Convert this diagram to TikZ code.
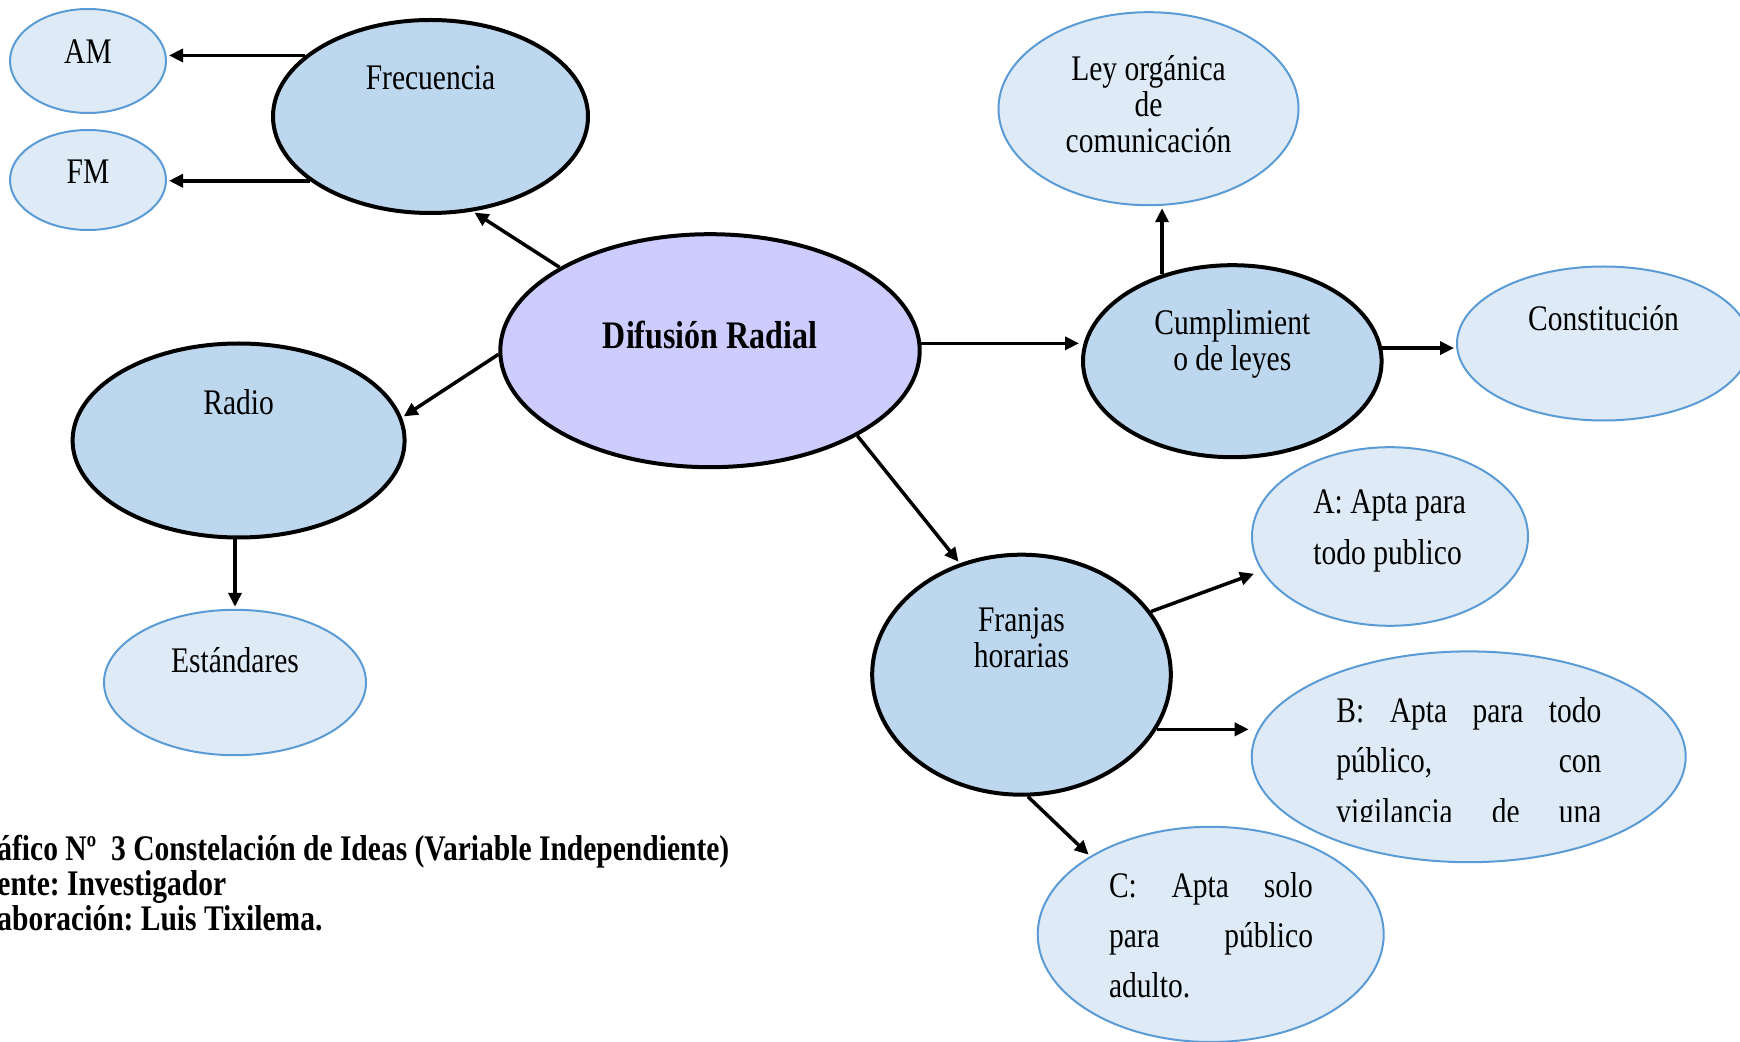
\documentclass[tikz,border=0pt]{standalone}
\usepackage{fontspec}
\setmainfont{Liberation Serif}[FakeStretch=0.82]
\usetikzlibrary{shapes.geometric,arrows.meta}
\definecolor{midblue}{HTML}{BDD7EE}
\definecolor{leafblue}{HTML}{DEEBF7}
\definecolor{leafline}{HTML}{5B9BD5}
\definecolor{lav}{HTML}{CCCCFF}
\frenchspacing
\tikzset{
 mainell/.style={ellipse, draw=black, line width=2pt, fill=midblue, inner sep=0pt},
 leafell/.style={ellipse, draw=leafline, line width=1pt, fill=leafblue, inner sep=0pt},
 lbl/.style={anchor=base, inner sep=0pt, font=\fontsize{18}{18}\selectfont},
 lblw/.style={anchor=base west, inner sep=0pt, font=\fontsize{18}{25.4}\selectfont},
 arr/.style={line width=1.75pt, -{Triangle[length=7pt,width=6.5pt]}, shorten >=1pt},
}
\begin{document}
\begin{tikzpicture}[x=0.5pt,y=-0.5pt]
\useasboundingbox (0,0) rectangle (1740,1042);
% ellipses
\node[leafell, minimum width=78pt, minimum height=52pt] (am) at (88,61) {};
\node[leafell, minimum width=78pt, minimum height=50pt] (fm) at (88,180) {};
\node[mainell, minimum width=157.5pt, minimum height=96.5pt] (frec) at (430.5,116.5) {};
\node[mainell, fill=lav, minimum width=209.7pt, minimum height=116.5pt] (dif) at (710,350.7) {};
\node[mainell, minimum width=166pt, minimum height=97pt] (radio) at (238.6,440.5) {};
\node[leafell, minimum width=131pt, minimum height=72.7pt] (est) at (235,682.5) {};
\node[leafell, minimum width=150pt, minimum height=96.5pt] (ley) at (1148.5,108.7) {};
\node[mainell, minimum width=149.3pt, minimum height=96pt] (cump) at (1232.3,361.2) {};
\node[leafell, minimum width=146.5pt, minimum height=77pt] (const) at (1603.5,343.5) {};
\node[mainell, minimum width=149.3pt, minimum height=120pt] (franj) at (1021.5,674.7) {};
\node[leafell, minimum width=138pt, minimum height=89.3pt] (a) at (1390,536.5) {};
\node[leafell, minimum width=217pt, minimum height=105.4pt] (b) at (1468.7,756.8) {};
\node[leafell, minimum width=173pt, minimum height=107.6pt] (c) at (1210.7,934.4) {};
% texts
\node[lbl] (tam) at (88,64) {AM};
\node[lbl] (tfm) at (88,184) {FM};
\node[lbl] (tfrec) at (430.5,89.7) {Frecuencia};
\node[lbl, font=\fontsize{19.5}{19.5}\selectfont\bfseries] (tdif) at (710,349) {Difusión Radial};
\node[lbl] (tradio) at (238.6,415) {Radio};
\node[lbl] (test) at (235,672) {Estándares};
\node[lbl] (tley) at (1148.5,80.8) {\begin{tabular}[t]{@{}c@{}}Ley orgánica\\de\\comunicación\end{tabular}};
\node[lbl] (tcump) at (1232.3,335) {\begin{tabular}[t]{@{}c@{}}Cumplimient\\o de leyes\end{tabular}};
\node[lbl] (tconst) at (1603.5,330.5) {Constitución};
\node[lbl] (tfranj) at (1021.5,632) {\begin{tabular}[t]{@{}c@{}}Franjas\\horarias\end{tabular}};
\node[lblw] (ta) at (1313,513.6) {\begin{tabular}[t]{@{}l@{}}A: Apta para\\todo publico\end{tabular}};
\begin{scope}
\clip (1240,640) rectangle (1700,821.5);
\node[lblw, font=\fontsize{18}{25.3}\selectfont] (tb) at (1336,722) {\begin{tabular}[t]{@{}l@{}}\makebox[132.5pt][s]{B: Apta para todo}\\\makebox[132.5pt][s]{público, con}\\\makebox[132.5pt][s]{vigilancia de una}\end{tabular}};
\end{scope}
\node[lblw, font=\fontsize{18}{25}\selectfont] (tc) at (1108.6,897.5) {\begin{tabular}[t]{@{}l@{}}\makebox[102pt][s]{C: Apta solo}\\\makebox[102pt][s]{para público}\\adulto.\end{tabular}};
% caption
\node[anchor=base west, inner sep=0pt, font=\fontsize{18}{16.8}\selectfont\bfseries] (cap) at (-3,860) {\begin{tabular}[t]{@{}l@{}}áfico Nº\ \ 3 Constelación de Ideas (Variable Independiente)\\ente: Investigador\\aboración: Luis Tixilema.\end{tabular}};
% arrows
\draw[arr] (frec.154) -- (frec.154 -| am.east);
\draw[arr] (frec.208) -- (frec.208 -| fm.east);
\draw[arr] (dif.151) -- (frec.294);
\draw[arr] (dif.181) -- (radio.8);
\draw[arr] (est.north |- radio.south) -- (est.north);
\draw[arr] (dif.2) -- (dif.2 -| cump.west);
\draw[arr] (cump.129) -- (cump.129 |- ley.south);
\draw[arr] (cump.5) -- (cump.5 -| const.west);
\draw[arr] (dif.330) -- (franj.119);
\draw[arr, shorten >=4pt] (franj.26) -- (a.195);
\draw[arr] (franj.338) -- (franj.338 -| b.west);
\draw[arr] (franj.273) -- (c.147);
\end{tikzpicture}
\end{document}
